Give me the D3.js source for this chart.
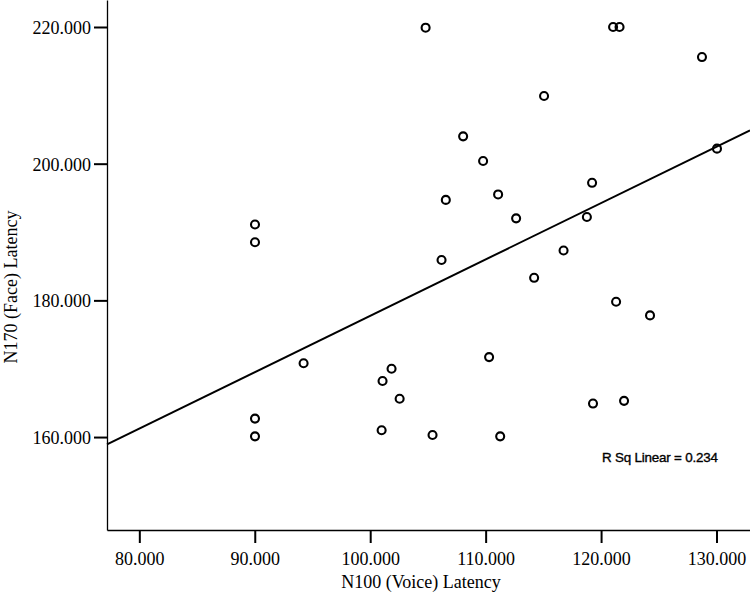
<!DOCTYPE html>
<html>
<head>
<meta charset="utf-8">
<script src="https://cdn.jsdelivr.net/npm/d3@7"></script>
<style>
  body { margin: 0; background: #fff; }
  svg { display: block; }
</style>
</head>
<body>
<div id="chart"></div>
<script>
// N100 (Voice) latency per subject
const voiceLatency = [
  90.02, 90.02, 90.02, 90.02, 94.23, 101.85, 101.07, 102.55, 100.99, 105.40,
  111.26, 110.30, 106.18, 106.55, 109.78, 111.08, 112.64, 114.20, 108.05, 104.80,
  115.06, 116.75, 119.22, 118.77, 121.30, 124.24, 119.30, 121.99, 121.04, 121.60,
  128.74, 130.04
];
// N170 (Face) latency per subject
const faceLatency = [
  191.1, 188.5, 162.7, 160.1, 170.8, 170.0, 168.2, 165.6, 161.0, 160.3,
  160.1, 171.7, 185.9, 194.7, 200.4, 195.5, 192.0, 183.3, 204.0, 219.9,
  209.9, 187.3, 197.2, 192.2, 179.8, 177.8, 164.9, 165.3, 220.0, 220.0,
  215.6, 202.2
];
const xTicks = [80, 90, 100, 110, 120, 130];
const yTicks = [160, 180, 200, 220];
// fitted line
const fitIntercept = 95.24;
const fitSlope = 0.825;
const rSquared = 0.234;

const width = 750, height = 596;
const margin = { top: 0, right: 0, bottom: 66, left: 107 };
const serif = "'Liberation Serif', 'Times New Roman', serif";

const svg = d3.select("#chart").append("svg")
  .attr("width", width)
  .attr("height", height);

const x = d3.scaleLinear()
  .domain([77.2, 132.9])
  .range([margin.left, width - margin.right]);

const y = d3.scaleLinear()
  .domain([146.4, 223.95])
  .range([height - margin.bottom, margin.top]);

const fmt = d3.format(".3f");

// x axis
const xAxis = svg.append("g")
  .attr("transform", `translate(0,${height - margin.bottom})`)
  .call(d3.axisBottom(x).tickValues(xTicks).tickFormat(fmt)
    .tickSize(13).tickSizeOuter(0).tickPadding(9));

// y axis
const yAxis = svg.append("g")
  .attr("transform", `translate(${margin.left},0)`)
  .call(d3.axisLeft(y).tickValues(yTicks).tickFormat(fmt)
    .tickSize(13).tickSizeOuter(0).tickPadding(3));

[xAxis, yAxis].forEach(g => {
  g.select(".domain").attr("stroke", "#000").attr("stroke-width", 1.3);
  g.selectAll(".tick line").attr("stroke", "#000").attr("stroke-width", 2);
  g.selectAll(".tick text")
    .attr("fill", "#000")
    .style("font-family", serif)
    .style("font-size", "18px");
});
yAxis.selectAll(".tick text").attr("dy", "0.36em");

// regression line
const xd = x.domain();
svg.append("line")
  .attr("x1", x(xd[0]))
  .attr("y1", y(fitIntercept + fitSlope * xd[0]))
  .attr("x2", x(xd[1]))
  .attr("y2", y(fitIntercept + fitSlope * xd[1]))
  .attr("stroke", "#000")
  .attr("stroke-width", 2);

// points
const points = voiceLatency.map((v, i) => ({ x: v, y: faceLatency[i] }));
svg.append("g")
  .selectAll("circle")
  .data(points)
  .enter()
  .append("circle")
  .attr("cx", d => x(d.x))
  .attr("cy", d => y(d.y))
  .attr("r", 4)
  .attr("fill", "none")
  .attr("stroke", "#000")
  .attr("stroke-width", 2.1);

// R squared label
svg.append("text")
  .attr("x", 602)
  .attr("y", 462)
  .attr("stroke", "#000")
  .attr("stroke-width", 0.35)
  .style("font-family", "'Liberation Sans', Arial, sans-serif")
  .style("font-size", "13.4px")
  .style("letter-spacing", "-0.2px")
  .text(`R Sq Linear = ${rSquared}`);

// axis titles
svg.append("text")
  .attr("x", 421)
  .attr("y", 588)
  .attr("text-anchor", "middle")
  .style("font-family", serif)
  .style("font-size", "18px")
  .text("N100 (Voice) Latency");

svg.append("text")
  .attr("transform", "translate(17,287) rotate(-90)")
  .attr("text-anchor", "middle")
  .style("font-family", serif)
  .style("font-size", "18px")
  .text("N170 (Face) Latency");
</script>
</body>
</html>
